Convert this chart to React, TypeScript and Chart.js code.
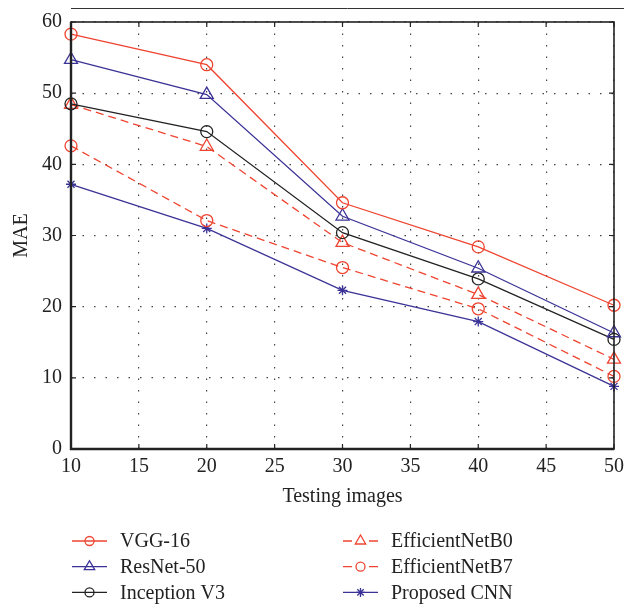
import React, { useEffect, useRef } from "react";
import { Chart, registerables } from "chart.js";
import { drawPoint } from "chart.js/helpers";

Chart.register(...registerables);

const testingImages = [10, 20, 30, 40, 50];
const vgg16 = [58.3, 54.0, 34.6, 28.4, 20.2];
const resnet50 = [54.7, 49.8, 32.7, 25.4, 16.3];
const inceptionV3 = [48.5, 44.6, 30.4, 23.9, 15.4];
const efficientNetB0 = [48.4, 42.5, 29.0, 21.7, 12.6];
const efficientNetB7 = [42.6, 32.1, 25.5, 19.7, 10.2];
const proposedCNN = [37.2, 31.0, 22.3, 17.9, 8.8];

const seriesNames = ["VGG-16", "ResNet-50", "Inception V3", "EfficientNetB0", "EfficientNetB7", "Proposed CNN"];

const RED = "#ee4430";
const BLUE = "#3a3296";
const BLACK = "#222222";
const FONT = "'Liberation Serif', 'Times New Roman', serif";

const frameAndLegend = {
  id: "frameAndLegend",
  afterDraw(chart: any) {
    const { ctx, chartArea } = chart;
    const { left, right, top, bottom } = chartArea;
    const xs = chart.scales.x;
    const ys = chart.scales.y;
    ctx.save();
    // inward ticks
    ctx.strokeStyle = BLACK;
    ctx.lineWidth = 1.2;
    ctx.setLineDash([]);
    const tl = 5;
    xs.ticks.forEach((t: any) => {
      const px = xs.getPixelForValue(t.value);
      ctx.beginPath();
      ctx.moveTo(px, bottom);
      ctx.lineTo(px, bottom - tl);
      ctx.moveTo(px, top);
      ctx.lineTo(px, top + tl);
      ctx.stroke();
    });
    ys.ticks.forEach((t: any) => {
      const py = ys.getPixelForValue(t.value);
      ctx.beginPath();
      ctx.moveTo(left, py);
      ctx.lineTo(left + tl, py);
      ctx.moveTo(right, py);
      ctx.lineTo(right - tl, py);
      ctx.stroke();
    });
    // frame
    ctx.lineWidth = 1.6;
    ctx.strokeRect(left, top, right - left, bottom - top);
    ctx.lineWidth = 2.4;
    ctx.beginPath();
    ctx.moveTo(left, top);
    ctx.lineTo(left, bottom);
    ctx.lineTo(right, bottom);
    ctx.stroke();
    // top rule
    ctx.lineWidth = 1;
    ctx.strokeStyle = "#333";
    ctx.beginPath();
    ctx.moveTo(left, 8.5);
    ctx.lineTo(chart.width, 8.5);
    ctx.stroke();

    // legend
    ctx.font = `20px ${FONT}`;
    ctx.textBaseline = "middle";
    ctx.textAlign = "left";
    chart.data.datasets.forEach((ds: any, i: number) => {
      const col = i < 3 ? 0 : 1;
      const row = i % 3;
      const x0 = left + 1 + col * 271;
      const y = bottom + 92 + row * 25.7;
      ctx.strokeStyle = ds.borderColor;
      ctx.lineWidth = 1.3;
      ctx.setLineDash([]);
      ctx.beginPath();
      if (ds.borderDash && ds.borderDash.length) {
        ctx.moveTo(x0, y);
        ctx.lineTo(x0 + 9, y);
        ctx.moveTo(x0 + 26, y);
        ctx.lineTo(x0 + 35, y);
      } else {
        ctx.moveTo(x0, y);
        ctx.lineTo(x0 + 35, y);
      }
      ctx.stroke();
      ctx.fillStyle = "rgba(0,0,0,0)";
      ctx.strokeStyle = ds.borderColor;
      drawPoint(ctx, {
        pointStyle: ds.pointStyle,
        radius: ds.pointStyle === "triangle" ? 6 : 4.5,
        rotation: 0,
        borderWidth: 1.3,
      } as any, x0 + 17.5, y);
      ctx.fillStyle = "#222";
      ctx.fillText(ds.label, x0 + 48, y + 1);
    });
    ctx.restore();
  },
};

function mk(label: string, data: number[], color: string, style: string, dashed: boolean) {
  return {
    label,
    data: data.map((v, i) => ({ x: testingImages[i], y: v })),
    borderColor: color,
    backgroundColor: "rgba(0,0,0,0)",
    borderWidth: 1.3,
    borderDash: dashed ? [8, 5] : [],
    pointStyle: style,
    pointRadius: style === "triangle" ? 7.5 : style === "star" ? 5 : 6,
    pointBorderWidth: 1.3,
    pointBackgroundColor: "rgba(0,0,0,0)",
    pointBorderColor: color,
    tension: 0,
    clip: false as any,
  };
}

export default function App() {
  const ref = useRef<HTMLCanvasElement>(null);
  useEffect(() => {
    document.body.style.margin = "0";
    const canvas = ref.current!;
    const chart = new Chart(canvas, {
      type: "line",
      data: {
        datasets: [
          mk(seriesNames[0], vgg16, RED, "circle", false),
          mk(seriesNames[1], resnet50, BLUE, "triangle", false),
          mk(seriesNames[2], inceptionV3, BLACK, "circle", false),
          mk(seriesNames[3], efficientNetB0, RED, "triangle", true),
          mk(seriesNames[4], efficientNetB7, RED, "circle", true),
          mk(seriesNames[5], proposedCNN, BLUE, "star", false),
        ] as any,
      },
      options: {
        responsive: false,
        animation: false,
        layout: { padding: { left: 10, top: 22, right: 10, bottom: 98 } },
        plugins: { legend: { display: false }, tooltip: { enabled: false } },
        scales: {
          x: {
            type: "linear",
            min: 10,
            max: 50,
            ticks: { stepSize: 5, padding: 6, color: "#222", font: { family: FONT, size: 20 } },
            grid: { color: "#444", lineWidth: 1.2, drawTicks: false },
            border: { display: false, dash: [1.5, 10] },
            title: { display: true, text: "Testing images", color: "#222", padding: 0, font: { family: FONT, size: 20 } },
            afterFit: (s: any) => { s.height = 60; s.paddingLeft = 0; s.paddingRight = 0; },
          },
          y: {
            min: 0,
            max: 60,
            ticks: { stepSize: 10, padding: 9, color: "#222", font: { family: FONT, size: 20 } },
            grid: { color: "#444", lineWidth: 1.2, drawTicks: false },
            border: { display: false, dash: [1.5, 10] },
            title: { display: true, text: "MAE", color: "#222", padding: 0, font: { family: FONT, size: 20 } },
            afterFit: (s: any) => { s.width = 61; s.paddingTop = 0; s.paddingBottom = 0; },
          },
        },
      },
      plugins: [frameAndLegend],
    });
    return () => chart.destroy();
  }, []);
  return <canvas ref={ref} width={624} height={607} style={{ display: "block" }} />;
}
